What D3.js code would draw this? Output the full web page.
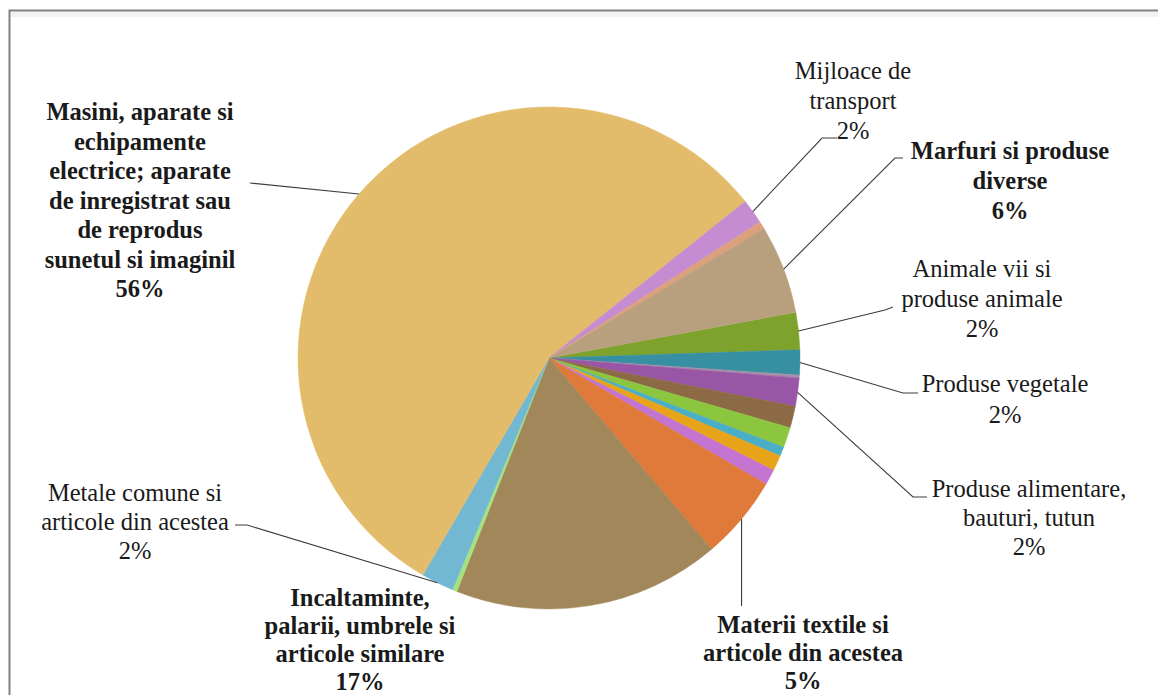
<!DOCTYPE html>
<html>
<head>
<meta charset="utf-8">
<script src="https://cdn.jsdelivr.net/npm/d3@7"></script>
<style>
  html, body { margin: 0; padding: 0; background: #ffffff; }
  svg { display: block; }
</style>
</head>
<body>
<svg id="chart" width="1158" height="695"></svg>
<script>
// ---- data ----
const categories = [
  "Animale vii si produse animale",
  "Produse vegetale",
  "Grasimi si uleiuri",
  "Produse alimentare, bauturi, tutun",
  "Produse minerale",
  "Produse chimice",
  "Materiale plastice",
  "Piei",
  "Lemn si hartie",
  "Materii textile si articole din acestea",
  "Incaltaminte, palarii, umbrele si articole similare",
  "Articole din piatra",
  "Metale comune si articole din acestea",
  "Masini, aparate si echipamente electrice",
  "Mijloace de transport",
  "Instrumente optice",
  "Marfuri si produse diverse"
];
const values = [2.4, 1.6, 0.2, 1.8, 1.4, 1.3, 0.6, 1.0, 1.0, 5.4, 17.2, 0.3, 2.1, 55.9, 1.6, 0.5, 5.7];
const colors = ["#7ea32c", "#378fa2", "#a08fa6", "#9a56a6", "#8c6a45", "#8cc63e", "#4aaec6", "#e8a419",
                "#c274d0", "#e07a3a", "#a2875a", "#a6e27e", "#72b8d2", "#e2bc6a", "#c68cd2", "#dca07c", "#b8a07f"];
const labelLines = [
  ["Animale  vii si", "produse animale"],
  ["Produse vegetale"],
  null,
  ["Produse alimentare,", "bauturi, tutun"],
  null, null, null, null, null,
  ["Materii textile si", "articole din acestea"],
  ["Incaltaminte,", "palarii, umbrele si", "articole similare"],
  null,
  ["Metale comune si", "articole din acestea"],
  ["Masini,  aparate si", "echipamente", "electrice; aparate", "de inregistrat  sau", "de reprodus", "sunetul si imaginil"],
  ["Mijloace de", "transport"],
  null,
  ["Marfuri  si produse", "diverse"]
];
const pctLabels = ["2%", "2%", null, "2%", null, null, null, null, null, "5%", "17%", null, "2%", "56%", "2%", null, "6%"];
const boldLabels = [false, false, false, false, false, false, false, false, false, true, true, false, false, true, false, false, true];

// ---- layout ----
const cx = 549, cy = 358, R = 251;
const firstSliceDeg = 79.5;
const fontSize = 24.5;
const labelLayout = {
  0:  { x: 982,  y: 277, lh: 30, leader: [[893, 307], [885, 310]] },
  1:  { x: 1005, y: 392, lh: 31, leader: [[918, 393], [903, 393]] },
  3:  { x: 1029, y: 497, lh: 29, leader: [[927, 497], [913, 497]] },
  9:  { x: 803,  y: 633, lh: 28, leader: "vertical", vy: 606 },
  10: { x: 360,  y: 606, lh: 28, leader: null },
  12: { x: 135,  y: 501, lh: 29, leader: [[235, 525], [247, 525]] },
  13: { x: 140,  y: 120, lh: 29.5, leader: [[250, 183]] },
  14: { x: 853,  y: 79,  lh: 30, leader: [[837, 138], [822, 138]] },
  16: { x: 1010, y: 159, lh: 30, leader: [[903, 158], [895, 158]] }
};

const svg = d3.select("#chart");
const fontFam = "'Liberation Serif', 'Times New Roman', 'DejaVu Serif', serif";

// frame
svg.append("rect")
  .attr("x", 11).attr("y", 12).attr("width", 1170).attr("height", 5)
  .attr("fill", "#ededed").attr("opacity", 0.7);
svg.append("rect")
  .attr("x", 9.5).attr("y", 10.5).attr("width", 1170).attr("height", 710)
  .attr("fill", "none").attr("stroke", "#808080").attr("stroke-width", 2);

const data = categories.map((c, i) => ({ name: c, value: values[i], color: colors[i], i }));

const start = firstSliceDeg * Math.PI / 180;
const pie = d3.pie().value(d => d.value).sort(null)
  .startAngle(start).endAngle(start + 2 * Math.PI);
const arcs = pie(data);
const arc = d3.arc().innerRadius(0).outerRadius(R);

const g = svg.append("g").attr("transform", `translate(${cx},${cy})`);
g.selectAll("path.slice").data(arcs).enter().append("path")
  .attr("class", "slice")
  .attr("d", arc)
  .attr("fill", d => d.data.color)
  .attr("stroke", d => d.data.color)
  .attr("stroke-width", 0.5);

// leader lines and labels
const line = d3.line();
arcs.forEach(a => {
  const i = a.data.i;
  const L = labelLayout[i];
  if (!L) return;
  const mid = (a.startAngle + a.endAngle) / 2;
  const rim = [cx + R * Math.sin(mid), cy - R * Math.cos(mid)];
  let pts = null;
  if (L.leader === "vertical") {
    pts = [rim, [rim[0], L.vy]];
  } else if (L.leader) {
    pts = L.leader.concat([rim]);
  }
  if (pts) {
    svg.append("path").attr("d", line(pts))
      .attr("fill", "none").attr("stroke", "#3c3c3c").attr("stroke-width", 1.1);
  }
  const lines = labelLines[i].concat([pctLabels[i]]);
  const t = svg.append("text")
    .attr("text-anchor", "middle")
    .attr("font-family", fontFam)
    .attr("fill", "#1a1a1a")
    .attr("font-size", fontSize)
    .attr("font-weight", boldLabels[i] ? "bold" : "normal");
  lines.forEach((s, k) => {
    t.append("tspan").attr("x", L.x).attr("y", L.y + k * L.lh).text(s);
  });
});
</script>
</body>
</html>
